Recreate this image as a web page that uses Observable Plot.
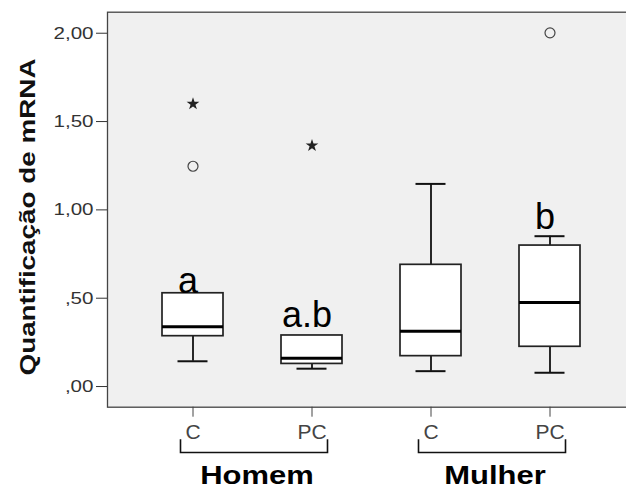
<!DOCTYPE html>
<html><head><meta charset="utf-8">
<script src="https://cdn.jsdelivr.net/npm/d3@7"></script>
<script src="https://cdn.jsdelivr.net/npm/@observablehq/plot@0.6"></script>
<style>body{margin:0;background:#fff}</style>
</head><body><div id="chart"></div>
<script>
const groups = ["Homem", "Homem", "Mulher", "Mulher"];
const conditions = ["C", "PC", "C", "PC"];
const whiskerLow = [0.143, 0.101, 0.087, 0.078];
const q1 = [0.285, 0.128, 0.172, 0.225];
const median = [0.338, 0.160, 0.313, 0.476];
const q3 = [0.528, 0.289, 0.689, 0.798];
const whiskerHigh = [0.528, 0.289, 1.147, 0.851];
const outlierIndex = [0, 3];
const outlierValue = [1.247, 2.002];
const extremeIndex = [0, 1];
const extremeValue = [1.600, 1.364];
const letters = ["a", "a.b", "", "b"];
const letterY = [0.528, 0.336, null, 0.893];
const yTicks = [0, 0.5, 1, 1.5, 2];
const yTickLabels = [",00", ",50", "1,00", "1,50", "2,00"];
const yLabel = "Quantificação de mRNA";
const groupNames = ["Homem", "Mulher"];

const keys = groups.map((g, i) => `${g} ${conditions[i]}`);
const boxes = keys.map((k, i) => ({key: k, lo: whiskerLow[i], q1: q1[i], med: median[i], q3: q3[i], hi: whiskerHigh[i]}));
const outliers = outlierIndex.map((j, i) => ({key: keys[j], v: outlierValue[i]}));
const extremes = extremeIndex.map((j, i) => ({key: keys[j], v: extremeValue[i]}));
const letterData = keys.map((k, i) => ({key: k, t: letters[i], y: letterY[i]})).filter(d => d.t);

const bracketMark = (index, scales, values, dims) => {
  const x = scales.x;
  const bw = x.bandwidth ? x.bandwidth() : 0;
  const yb = dims.height - dims.marginBottom;
  const g = d3.create("svg:g");
  groupNames.forEach(name => {
    const ks = keys.filter((k, i) => groups[i] === name);
    const xl = x(ks[0]) + bw / 2 - 12;
    const xr = x(ks[ks.length - 1]) + bw / 2 + 16;
    g.append("path")
      .attr("d", `M${xl},${yb + 32.6}V${yb + 45.8}H${xr}V${yb + 32.6}`)
      .attr("fill", "none").attr("stroke", "#111").attr("stroke-width", 1.6);
    g.append("text")
      .attr("x", (xl + xr) / 2 + 3).attr("y", yb + 77)
      .attr("text-anchor", "middle")
      .attr("font-size", 26).attr("font-weight", "bold").attr("fill", "#000")
      .text(name);
  });
  return g.node();
};

const chart = Plot.plot({
  width: 626,
  height: 490,
  marginLeft: 107,
  marginRight: 0,
  marginTop: 11.7,
  marginBottom: 83.3,
  style: {fontFamily: "'Liberation Sans', Arial, sans-serif", fontSize: "17px", background: "white", color: "#222"},
  x: {type: "band", domain: keys, range: [133.2, 609.5], paddingInner: 0.487, paddingOuter: 0.2435},
  y: {domain: [-0.117, 2.119]},
  marks: [
    Plot.frame({fill: "#f0f0f0", insetRight: -3}),
    Plot.ruleX(boxes, {x: "key", y1: "lo", y2: "q1", stroke: "#111", strokeWidth: 1.8}),
    Plot.ruleX(boxes.filter(d => d.hi > d.q3), {x: "key", y1: "q3", y2: "hi", stroke: "#111", strokeWidth: 1.8}),
    Plot.tickY(boxes, {x: "key", y: "lo", insetLeft: 15.5, insetRight: 15.5, stroke: "#111", strokeWidth: 2}),
    Plot.tickY(boxes.filter(d => d.hi > d.q3), {x: "key", y: "hi", insetLeft: 15.5, insetRight: 15.5, stroke: "#111", strokeWidth: 2}),
    Plot.barY(boxes, {x: "key", y1: "q1", y2: "q3", fill: "white", stroke: "#222", strokeWidth: 1.7}),
    Plot.tickY(boxes, {x: "key", y: "med", stroke: "#000", strokeWidth: 3}),
    Plot.dot(outliers, {x: "key", y: "v", r: 5, stroke: "#444", strokeWidth: 1.2, fill: "none"}),
    Plot.dot(extremes, {x: "key", y: "v", r: 4, symbol: "star", fill: "#222", stroke: "none"}),
    Plot.text(letterData, {x: "key", y: "y", text: "t", lineAnchor: "bottom", dx: -5, fontSize: 36, fill: "#000"}),
    Plot.frame({stroke: "#444", strokeWidth: 1.3, insetRight: -3}),
    Plot.axisY({ticks: yTicks, tickFormat: d => yTickLabels[yTicks.indexOf(d)], tickSize: 11, tickPadding: 3, fontSize: 17, color: "#333", label: null}),
    Plot.axisX({tickSize: 10, tickPadding: 6.5, fontSize: 21, tickFormat: d => conditions[keys.indexOf(d)], color: "#444", label: null}),
    Plot.text([yLabel], {text: d => d, frameAnchor: "left", textAnchor: "middle", lineAnchor: "middle", rotate: -90, dx: -80, dy: 7.3, fontSize: 22, fontWeight: "bold", fill: "#111"}),
    bracketMark
  ]
});
document.getElementById("chart").appendChild(chart);

d3.select(chart).selectAll("text").each(function() {
  const t = this.textContent;
  let factor = null, target = null;
  if (yTickLabels.includes(t)) factor = 1.21;
  else if (groupNames.includes(t)) factor = 1.19;
  else if (t === yLabel) target = 317;
  if (factor || target) {
    const len = this.getComputedTextLength();
    const L = target || len * factor;
    const anchor = getComputedStyle(this).textAnchor;
    const x0 = parseFloat(this.getAttribute("x") || "0");
    const shift = anchor === "middle" ? L / 2 : anchor === "end" ? L : 0;
    this.setAttribute("x", x0 - shift);
    this.setAttribute("text-anchor", "start");
    this.setAttribute("textLength", L);
    this.setAttribute("lengthAdjust", "spacingAndGlyphs");
  }
});
</script>
</body></html>
